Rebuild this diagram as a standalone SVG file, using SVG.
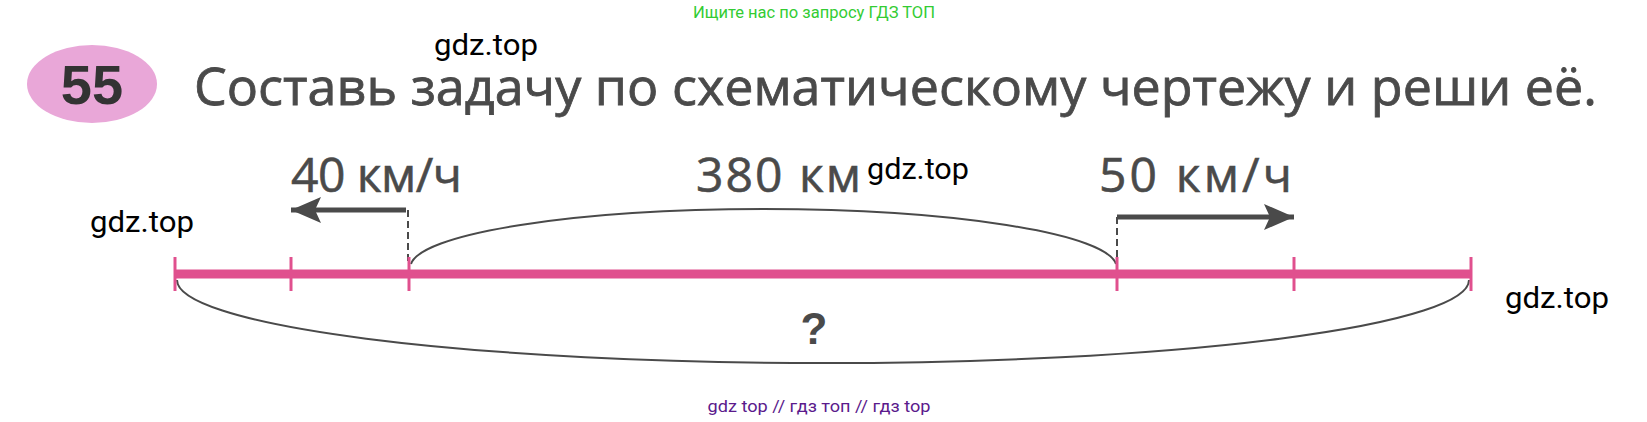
<svg xmlns="http://www.w3.org/2000/svg" width="1647" height="422" viewBox="0 0 1647 422">
<style>
.wm{font-family:Roboto,"Liberation Sans",sans-serif;font-size:30px;fill:#000}
.lbl{font-family:"Open Sans","Liberation Sans",sans-serif;font-size:48px;fill:#4a4a4a;stroke:#4a4a4a;stroke-width:0.6}
.arc{fill:none;stroke:#4a4a4a;stroke-width:2}
.tick{stroke:#e0508e;stroke-width:3}
.dash{stroke:#4a4a4a;stroke-width:2;stroke-dasharray:7 4}
.arr{stroke:#4a4a4a;stroke-width:5}
</style>
<defs>
<marker id="ah" viewBox="0 0 30 26" refX="30" refY="13" markerWidth="30" markerHeight="26" markerUnits="userSpaceOnUse" orient="auto">
<path d="M0 0 L30 13 L0 26 L6 13 Z" fill="#4a4a4a"/>
</marker>
</defs>
<rect width="1647" height="422" fill="#fff"/>
<text x="814" y="18" text-anchor="middle" font-family="Roboto,'Liberation Sans',sans-serif" font-size="16" fill="#33cc33" textLength="242" lengthAdjust="spacingAndGlyphs">Ищите нас по запросу ГДЗ ТОП</text>
<g id="badge">
<ellipse cx="92" cy="84" rx="65" ry="39" fill="#e9a7d8"/>
<text x="92" y="104" text-anchor="middle" font-family="'Liberation Sans',sans-serif" font-weight="bold" font-size="56" fill="#333">55</text>
</g>
<g id="title">
<text x="194" y="105" font-family="'Open Sans','Liberation Sans',sans-serif" font-size="52" fill="#4a4a4a" stroke="#4a4a4a" stroke-width="0.8" textLength="1403" lengthAdjust="spacing">Составь задачу по схематическому чертежу и реши её.</text>
</g>
<g id="connectors">
<path class="arc" d="M411 264 A353 58 0 0 1 1116 264"/>
<path class="arc" d="M177 280 A646 83 0 0 0 1469 280"/>
<line class="dash" x1="408" y1="210" x2="408" y2="262"/>
<line class="dash" x1="1117" y1="217" x2="1117" y2="262"/>
<line class="arr" x1="406" y1="210" x2="291" y2="210" marker-end="url(#ah)"/>
<line class="arr" x1="1117" y1="217" x2="1294" y2="217" marker-end="url(#ah)"/>
</g>
<g id="line">
<line x1="175" y1="274" x2="1471" y2="274" stroke="#e0508e" stroke-width="9"/>
<line class="tick" x1="175" y1="257" x2="175" y2="291"/>
<line class="tick" x1="291" y1="257" x2="291" y2="291"/>
<line class="tick" x1="409" y1="257" x2="409" y2="291"/>
<line class="tick" x1="1117" y1="257" x2="1117" y2="291"/>
<line class="tick" x1="1294" y1="257" x2="1294" y2="291"/>
<line class="tick" x1="1471" y1="257" x2="1471" y2="291"/>
</g>
<g id="labels">
<text class="lbl" x="291" y="192" textLength="171" lengthAdjust="spacing">40 км/ч</text>
<text class="lbl" x="696" y="192" textLength="165" lengthAdjust="spacing">380 км</text>
<text class="lbl" x="1099" y="192" textLength="193" lengthAdjust="spacing">50 км/ч</text>
<text x="814" y="344" text-anchor="middle" font-family="'Liberation Sans',sans-serif" font-weight="bold" font-size="44" fill="#4a4a4a">?</text>
</g>
<g id="watermarks">
<text class="wm" x="434" y="55" textLength="104" lengthAdjust="spacingAndGlyphs">gdz.top</text>
<text class="wm" x="867" y="179" textLength="102" lengthAdjust="spacingAndGlyphs">gdz.top</text>
<text class="wm" x="90" y="232" textLength="104" lengthAdjust="spacingAndGlyphs">gdz.top</text>
<text class="wm" x="1505" y="308" textLength="104" lengthAdjust="spacingAndGlyphs">gdz.top</text>
<text x="819" y="412" text-anchor="middle" font-family="Roboto,'Liberation Sans',sans-serif" font-size="16" fill="#5b1a8c" textLength="223" lengthAdjust="spacingAndGlyphs">gdz top  //  гдз топ  //  гдз top</text>
</g>
</svg>
